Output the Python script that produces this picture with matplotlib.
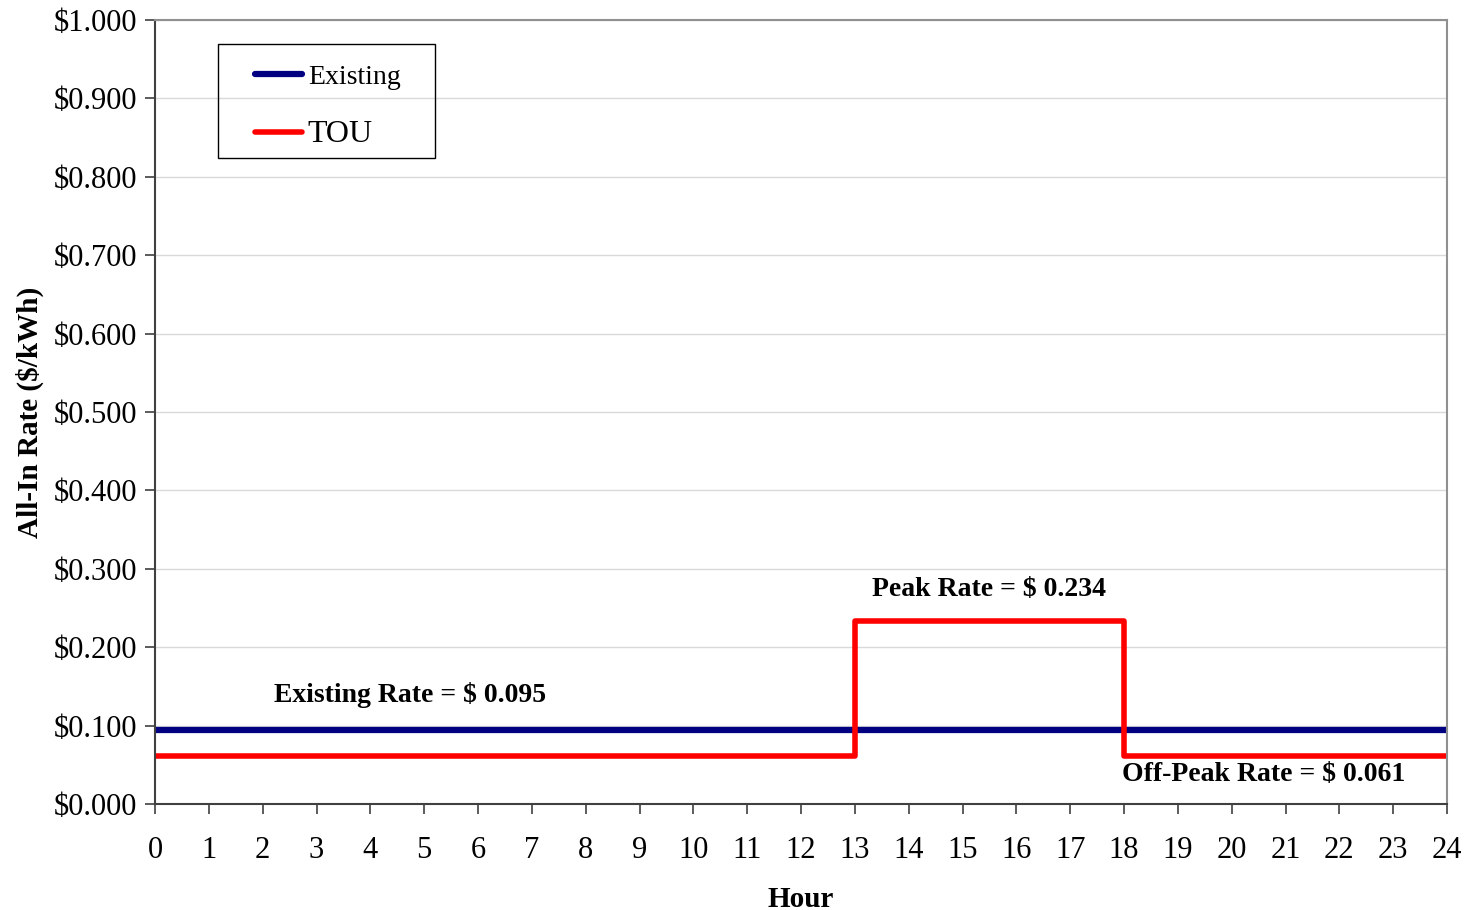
import numpy as np
import matplotlib.pyplot as plt
from matplotlib.ticker import FuncFormatter
from matplotlib.patches import Rectangle

plt.rcParams['font.family'] = ['Liberation Serif', 'DejaVu Serif']

# hourly rate data
hours = [0, 13, 18, 24]
existing_rate = [0.095, 0.095, 0.095, 0.095]
tou_rate = [0.061, 0.234, 0.061, 0.061]

peak_rate = 0.234
offpeak_rate = 0.061
flat_rate = 0.095

fig = plt.figure(figsize=(14.64, 9.10), dpi=100)
ax = fig.add_axes([0.1059, 0.1165, 0.8825, 0.8615])

ax.step(hours, existing_rate, where='post', color='#000080', linewidth=4.5, label='Existing')
ax.step(hours, tou_rate, where='post', color='#ff0000', linewidth=4, label='TOU')

ax.set_xlim(0, 24)
ax.set_ylim(0, 1.0)
ax.set_xticks(range(0, 25))
ax.set_yticks(np.arange(0, 1.01, 0.1))
ax.yaxis.set_major_formatter(FuncFormatter(lambda v, p: '$%.3f' % v))
ax.grid(axis='y', color='#d9d9d9', linewidth=1)
ax.set_axisbelow(True)

for s in ['left', 'bottom']:
    ax.spines[s].set_color('#404040')
    ax.spines[s].set_linewidth(1.5)
for s in ['top', 'right']:
    ax.spines[s].set_color('#909090')
    ax.spines[s].set_linewidth(1.5)

ax.tick_params(axis='both', direction='out', length=7, width=1.2, color='#404040', labelsize=22)
ax.tick_params(axis='x', pad=16)
ax.tick_params(axis='y', pad=6)

ax.set_xlabel('Hour', fontsize=21, fontweight='bold', labelpad=15)
ax.set_ylabel('All-In Rate ($/kWh)', fontsize=21, fontweight='bold', labelpad=7)

ax.text(4.74, 0.139, 'Existing Rate = $ %.3f' % flat_rate, fontsize=20, fontweight='bold',
        ha='center', va='center')
ax.text(15.5, 0.273, 'Peak Rate = $ %.3f' % peak_rate, fontsize=20, fontweight='bold',
        ha='center', va='center')
ax.text(20.6, 0.037, 'Off-Peak Rate = $ %.3f' % offpeak_rate, fontsize=20, fontweight='bold',
        ha='center', va='center')

# legend box frame
ax.add_patch(Rectangle((0.0488, 0.824), 0.168, 0.1453, transform=ax.transAxes,
                       fill=False, edgecolor='black', linewidth=1.0, zorder=5))
leg = ax.legend(loc='upper left', bbox_to_anchor=(0.0774, 0.943), fontsize=20,
                frameon=False, handlelength=1.7, handletextpad=0.2, labelspacing=1.08,
                borderpad=0, borderaxespad=0)
leg.get_texts()[1].set_fontsize(23)
for line in leg.get_lines():
    line.set_solid_capstyle('round')

fig.savefig('out.png', dpi=100)
